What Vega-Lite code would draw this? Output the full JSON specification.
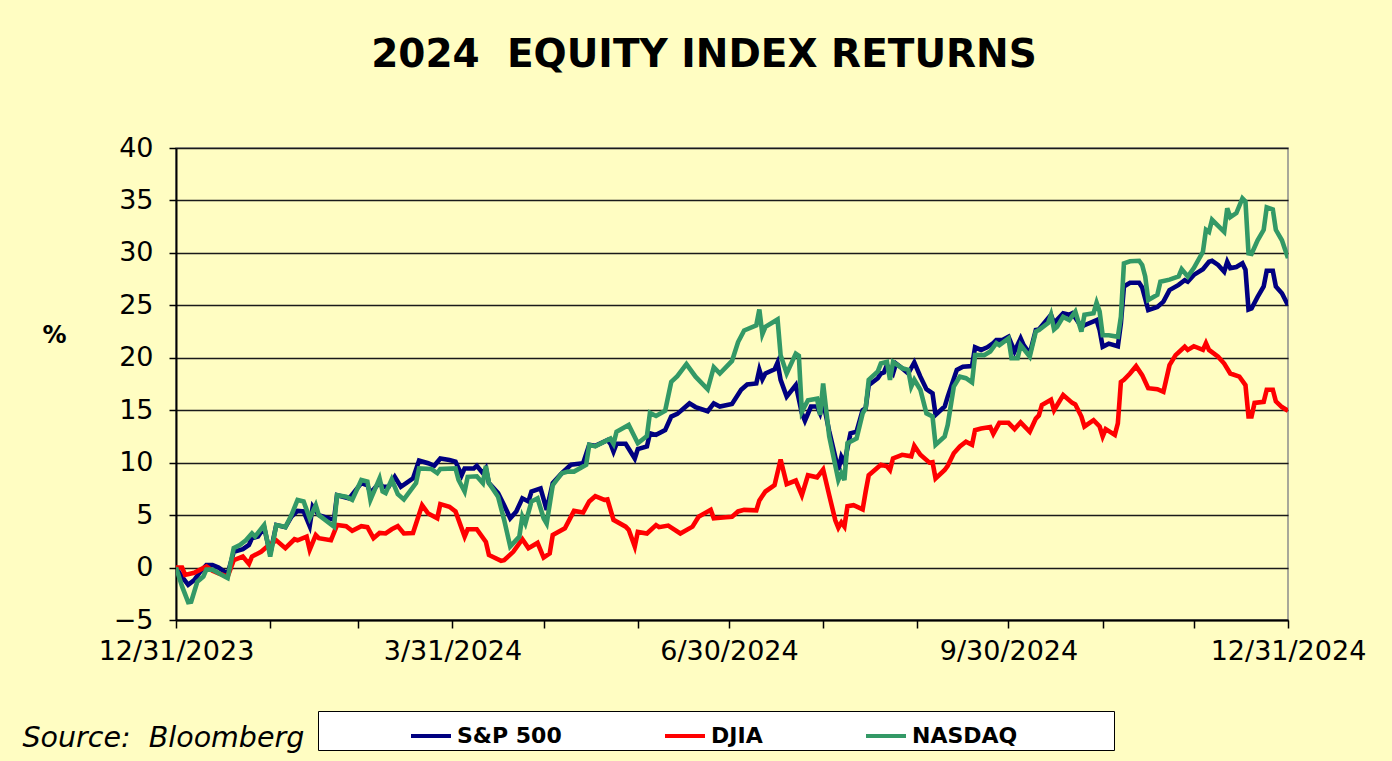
{
"$schema": "https://vega.github.io/schema/vega-lite/v6.json",
"autosize": {"type": "none"},
"width": 1112,
"height": 472,
"padding": {"left": 176, "top": 148, "right": 104, "bottom": 141},
"background": "#FFFDC2",
"title": {"text": "2024\u00a0 EQUITY INDEX RETURNS", "font": "DejaVu Sans", "fontSize": 39, "fontWeight": "bold", "color": "black", "anchor": "middle", "dx": -28, "offset": 59},
"config": {
  "font": "DejaVu Sans",
  "view": {"stroke": "#8c8c8c", "strokeWidth": 1.5}
},
"data": {"values": [
{"date":"2023-12-31","index":"S&P 500","ret":0},
{"date":"2024-01-02","index":"S&P 500","ret":-0.9},
{"date":"2024-01-04","index":"S&P 500","ret":-1.65},
{"date":"2024-01-06","index":"S&P 500","ret":-1.2},
{"date":"2024-01-08","index":"S&P 500","ret":-0.4},
{"date":"2024-01-10","index":"S&P 500","ret":0.25},
{"date":"2024-01-12","index":"S&P 500","ret":0.25},
{"date":"2024-01-14","index":"S&P 500","ret":0.0},
{"date":"2024-01-17","index":"S&P 500","ret":-0.6},
{"date":"2024-01-19","index":"S&P 500","ret":1.5},
{"date":"2024-01-22","index":"S&P 500","ret":1.75},
{"date":"2024-01-24","index":"S&P 500","ret":2.15},
{"date":"2024-01-25","index":"S&P 500","ret":2.8},
{"date":"2024-01-27","index":"S&P 500","ret":2.95},
{"date":"2024-01-29","index":"S&P 500","ret":3.85},
{"date":"2024-01-31","index":"S&P 500","ret":1.3},
{"date":"2024-02-02","index":"S&P 500","ret":4.05},
{"date":"2024-02-05","index":"S&P 500","ret":3.85},
{"date":"2024-02-07","index":"S&P 500","ret":4.85},
{"date":"2024-02-09","index":"S&P 500","ret":5.4},
{"date":"2024-02-11","index":"S&P 500","ret":5.35},
{"date":"2024-02-13","index":"S&P 500","ret":3.95},
{"date":"2024-02-14","index":"S&P 500","ret":5.8},
{"date":"2024-02-16","index":"S&P 500","ret":5.0},
{"date":"2024-02-21","index":"S&P 500","ret":4.55},
{"date":"2024-02-22","index":"S&P 500","ret":6.9},
{"date":"2024-02-26","index":"S&P 500","ret":6.6},
{"date":"2024-03-01","index":"S&P 500","ret":8.05},
{"date":"2024-03-03","index":"S&P 500","ret":7.85},
{"date":"2024-03-04","index":"S&P 500","ret":7.1},
{"date":"2024-03-07","index":"S&P 500","ret":8.1},
{"date":"2024-03-08","index":"S&P 500","ret":7.7},
{"date":"2024-03-10","index":"S&P 500","ret":7.7},
{"date":"2024-03-12","index":"S&P 500","ret":8.65},
{"date":"2024-03-14","index":"S&P 500","ret":7.7},
{"date":"2024-03-16","index":"S&P 500","ret":8.1},
{"date":"2024-03-18","index":"S&P 500","ret":8.5},
{"date":"2024-03-20","index":"S&P 500","ret":10.2},
{"date":"2024-03-23","index":"S&P 500","ret":9.95},
{"date":"2024-03-25","index":"S&P 500","ret":9.7},
{"date":"2024-03-27","index":"S&P 500","ret":10.4},
{"date":"2024-03-30","index":"S&P 500","ret":10.25},
{"date":"2024-04-01","index":"S&P 500","ret":10.1},
{"date":"2024-04-03","index":"S&P 500","ret":8.8},
{"date":"2024-04-04","index":"S&P 500","ret":9.45},
{"date":"2024-04-07","index":"S&P 500","ret":9.45},
{"date":"2024-04-08","index":"S&P 500","ret":9.7},
{"date":"2024-04-10","index":"S&P 500","ret":9.0},
{"date":"2024-04-11","index":"S&P 500","ret":9.45},
{"date":"2024-04-12","index":"S&P 500","ret":8.05},
{"date":"2024-04-15","index":"S&P 500","ret":7.1},
{"date":"2024-04-17","index":"S&P 500","ret":5.95},
{"date":"2024-04-19","index":"S&P 500","ret":4.7},
{"date":"2024-04-21","index":"S&P 500","ret":5.35},
{"date":"2024-04-23","index":"S&P 500","ret":6.6},
{"date":"2024-04-25","index":"S&P 500","ret":6.3},
{"date":"2024-04-26","index":"S&P 500","ret":7.25},
{"date":"2024-04-29","index":"S&P 500","ret":7.55},
{"date":"2024-05-01","index":"S&P 500","ret":5.5},
{"date":"2024-05-03","index":"S&P 500","ret":8.05},
{"date":"2024-05-06","index":"S&P 500","ret":9.0},
{"date":"2024-05-09","index":"S&P 500","ret":9.8},
{"date":"2024-05-13","index":"S&P 500","ret":9.95},
{"date":"2024-05-15","index":"S&P 500","ret":11.7},
{"date":"2024-05-17","index":"S&P 500","ret":11.6},
{"date":"2024-05-21","index":"S&P 500","ret":12.15},
{"date":"2024-05-22","index":"S&P 500","ret":11.8},
{"date":"2024-05-23","index":"S&P 500","ret":11.05},
{"date":"2024-05-24","index":"S&P 500","ret":11.8},
{"date":"2024-05-27","index":"S&P 500","ret":11.8},
{"date":"2024-05-30","index":"S&P 500","ret":10.4},
{"date":"2024-05-31","index":"S&P 500","ret":11.3},
{"date":"2024-06-03","index":"S&P 500","ret":11.55},
{"date":"2024-06-04","index":"S&P 500","ret":12.8},
{"date":"2024-06-06","index":"S&P 500","ret":12.65},
{"date":"2024-06-09","index":"S&P 500","ret":13.1},
{"date":"2024-06-11","index":"S&P 500","ret":14.4},
{"date":"2024-06-13","index":"S&P 500","ret":14.65},
{"date":"2024-06-17","index":"S&P 500","ret":15.65},
{"date":"2024-06-19","index":"S&P 500","ret":15.3},
{"date":"2024-06-23","index":"S&P 500","ret":14.9},
{"date":"2024-06-25","index":"S&P 500","ret":15.65},
{"date":"2024-06-27","index":"S&P 500","ret":15.35},
{"date":"2024-07-01","index":"S&P 500","ret":15.6},
{"date":"2024-07-04","index":"S&P 500","ret":16.95},
{"date":"2024-07-06","index":"S&P 500","ret":17.45},
{"date":"2024-07-09","index":"S&P 500","ret":17.55},
{"date":"2024-07-10","index":"S&P 500","ret":18.85},
{"date":"2024-07-11","index":"S&P 500","ret":17.95},
{"date":"2024-07-12","index":"S&P 500","ret":18.5},
{"date":"2024-07-15","index":"S&P 500","ret":18.9},
{"date":"2024-07-16","index":"S&P 500","ret":19.55},
{"date":"2024-07-17","index":"S&P 500","ret":17.9},
{"date":"2024-07-19","index":"S&P 500","ret":16.3},
{"date":"2024-07-22","index":"S&P 500","ret":17.4},
{"date":"2024-07-24","index":"S&P 500","ret":14.7},
{"date":"2024-07-25","index":"S&P 500","ret":14.0},
{"date":"2024-07-27","index":"S&P 500","ret":15.35},
{"date":"2024-07-29","index":"S&P 500","ret":15.35},
{"date":"2024-07-30","index":"S&P 500","ret":14.7},
{"date":"2024-07-31","index":"S&P 500","ret":15.8},
{"date":"2024-08-02","index":"S&P 500","ret":13.0},
{"date":"2024-08-05","index":"S&P 500","ret":9.3},
{"date":"2024-08-06","index":"S&P 500","ret":10.55},
{"date":"2024-08-07","index":"S&P 500","ret":10.0},
{"date":"2024-08-09","index":"S&P 500","ret":12.8},
{"date":"2024-08-11","index":"S&P 500","ret":12.95},
{"date":"2024-08-13","index":"S&P 500","ret":15.0},
{"date":"2024-08-14","index":"S&P 500","ret":15.2},
{"date":"2024-08-15","index":"S&P 500","ret":17.4},
{"date":"2024-08-18","index":"S&P 500","ret":18.05},
{"date":"2024-08-19","index":"S&P 500","ret":18.5},
{"date":"2024-08-20","index":"S&P 500","ret":18.6},
{"date":"2024-08-21","index":"S&P 500","ret":19.3},
{"date":"2024-08-23","index":"S&P 500","ret":18.5},
{"date":"2024-08-24","index":"S&P 500","ret":19.45},
{"date":"2024-08-26","index":"S&P 500","ret":19.0},
{"date":"2024-08-28","index":"S&P 500","ret":18.5},
{"date":"2024-08-30","index":"S&P 500","ret":19.55},
{"date":"2024-09-01","index":"S&P 500","ret":18.2},
{"date":"2024-09-03","index":"S&P 500","ret":17.0},
{"date":"2024-09-05","index":"S&P 500","ret":16.6},
{"date":"2024-09-06","index":"S&P 500","ret":14.55},
{"date":"2024-09-09","index":"S&P 500","ret":15.35},
{"date":"2024-09-10","index":"S&P 500","ret":16.3},
{"date":"2024-09-13","index":"S&P 500","ret":18.85},
{"date":"2024-09-15","index":"S&P 500","ret":19.15},
{"date":"2024-09-18","index":"S&P 500","ret":19.2},
{"date":"2024-09-19","index":"S&P 500","ret":21.0},
{"date":"2024-09-21","index":"S&P 500","ret":20.75},
{"date":"2024-09-23","index":"S&P 500","ret":21.0},
{"date":"2024-09-25","index":"S&P 500","ret":21.4},
{"date":"2024-09-26","index":"S&P 500","ret":21.7},
{"date":"2024-09-28","index":"S&P 500","ret":21.7},
{"date":"2024-09-30","index":"S&P 500","ret":22.0},
{"date":"2024-10-02","index":"S&P 500","ret":20.6},
{"date":"2024-10-04","index":"S&P 500","ret":21.85},
{"date":"2024-10-05","index":"S&P 500","ret":21.2},
{"date":"2024-10-07","index":"S&P 500","ret":20.4},
{"date":"2024-10-09","index":"S&P 500","ret":22.65},
{"date":"2024-10-10","index":"S&P 500","ret":22.7},
{"date":"2024-10-14","index":"S&P 500","ret":24.1},
{"date":"2024-10-15","index":"S&P 500","ret":23.3},
{"date":"2024-10-18","index":"S&P 500","ret":24.25},
{"date":"2024-10-20","index":"S&P 500","ret":24.1},
{"date":"2024-10-21","index":"S&P 500","ret":24.25},
{"date":"2024-10-24","index":"S&P 500","ret":22.95},
{"date":"2024-10-25","index":"S&P 500","ret":23.1},
{"date":"2024-10-29","index":"S&P 500","ret":23.6},
{"date":"2024-10-30","index":"S&P 500","ret":22.65},
{"date":"2024-10-31","index":"S&P 500","ret":21.05},
{"date":"2024-11-02","index":"S&P 500","ret":21.35},
{"date":"2024-11-05","index":"S&P 500","ret":21.1},
{"date":"2024-11-06","index":"S&P 500","ret":23.3},
{"date":"2024-11-07","index":"S&P 500","ret":26.8},
{"date":"2024-11-09","index":"S&P 500","ret":27.15},
{"date":"2024-11-12","index":"S&P 500","ret":27.15},
{"date":"2024-11-13","index":"S&P 500","ret":26.7},
{"date":"2024-11-14","index":"S&P 500","ret":25.65},
{"date":"2024-11-15","index":"S&P 500","ret":24.55},
{"date":"2024-11-18","index":"S&P 500","ret":24.85},
{"date":"2024-11-20","index":"S&P 500","ret":25.35},
{"date":"2024-11-22","index":"S&P 500","ret":26.45},
{"date":"2024-11-25","index":"S&P 500","ret":26.95},
{"date":"2024-11-27","index":"S&P 500","ret":27.4},
{"date":"2024-11-28","index":"S&P 500","ret":27.25},
{"date":"2024-11-30","index":"S&P 500","ret":27.9},
{"date":"2024-12-03","index":"S&P 500","ret":28.45},
{"date":"2024-12-05","index":"S&P 500","ret":29.15},
{"date":"2024-12-06","index":"S&P 500","ret":29.25},
{"date":"2024-12-08","index":"S&P 500","ret":28.85},
{"date":"2024-12-10","index":"S&P 500","ret":28.2},
{"date":"2024-12-11","index":"S&P 500","ret":29.15},
{"date":"2024-12-12","index":"S&P 500","ret":28.55},
{"date":"2024-12-14","index":"S&P 500","ret":28.65},
{"date":"2024-12-16","index":"S&P 500","ret":29.0},
{"date":"2024-12-17","index":"S&P 500","ret":28.4},
{"date":"2024-12-18","index":"S&P 500","ret":24.6},
{"date":"2024-12-19","index":"S&P 500","ret":24.7},
{"date":"2024-12-21","index":"S&P 500","ret":25.8},
{"date":"2024-12-23","index":"S&P 500","ret":26.8},
{"date":"2024-12-24","index":"S&P 500","ret":28.3},
{"date":"2024-12-26","index":"S&P 500","ret":28.3},
{"date":"2024-12-27","index":"S&P 500","ret":26.8},
{"date":"2024-12-29","index":"S&P 500","ret":26.15},
{"date":"2024-12-31","index":"S&P 500","ret":25.0},
{"date":"2023-12-31","index":"DJIA","ret":0},
{"date":"2024-01-02","index":"DJIA","ret":0.0},
{"date":"2024-01-03","index":"DJIA","ret":-0.7},
{"date":"2024-01-06","index":"DJIA","ret":-0.5},
{"date":"2024-01-08","index":"DJIA","ret":-0.2},
{"date":"2024-01-10","index":"DJIA","ret":0.1},
{"date":"2024-01-12","index":"DJIA","ret":-0.3},
{"date":"2024-01-14","index":"DJIA","ret":-0.55},
{"date":"2024-01-17","index":"DJIA","ret":-0.85},
{"date":"2024-01-19","index":"DJIA","ret":0.7},
{"date":"2024-01-22","index":"DJIA","ret":1.05},
{"date":"2024-01-24","index":"DJIA","ret":0.35},
{"date":"2024-01-25","index":"DJIA","ret":1.05},
{"date":"2024-01-28","index":"DJIA","ret":1.5},
{"date":"2024-01-30","index":"DJIA","ret":2.0},
{"date":"2024-02-02","index":"DJIA","ret":2.6},
{"date":"2024-02-05","index":"DJIA","ret":1.85},
{"date":"2024-02-08","index":"DJIA","ret":2.7},
{"date":"2024-02-09","index":"DJIA","ret":2.6},
{"date":"2024-02-12","index":"DJIA","ret":2.95},
{"date":"2024-02-13","index":"DJIA","ret":1.7},
{"date":"2024-02-15","index":"DJIA","ret":3.1},
{"date":"2024-02-16","index":"DJIA","ret":2.8},
{"date":"2024-02-20","index":"DJIA","ret":2.6},
{"date":"2024-02-22","index":"DJIA","ret":4.05},
{"date":"2024-02-25","index":"DJIA","ret":3.95},
{"date":"2024-02-27","index":"DJIA","ret":3.5},
{"date":"2024-03-01","index":"DJIA","ret":3.95},
{"date":"2024-03-03","index":"DJIA","ret":3.85},
{"date":"2024-03-05","index":"DJIA","ret":2.8},
{"date":"2024-03-07","index":"DJIA","ret":3.3},
{"date":"2024-03-09","index":"DJIA","ret":3.25},
{"date":"2024-03-11","index":"DJIA","ret":3.65},
{"date":"2024-03-13","index":"DJIA","ret":3.95},
{"date":"2024-03-15","index":"DJIA","ret":3.25},
{"date":"2024-03-18","index":"DJIA","ret":3.3},
{"date":"2024-03-21","index":"DJIA","ret":5.95},
{"date":"2024-03-23","index":"DJIA","ret":5.15},
{"date":"2024-03-26","index":"DJIA","ret":4.7},
{"date":"2024-03-27","index":"DJIA","ret":6.05},
{"date":"2024-03-30","index":"DJIA","ret":5.8},
{"date":"2024-04-01","index":"DJIA","ret":5.35},
{"date":"2024-04-04","index":"DJIA","ret":2.95},
{"date":"2024-04-05","index":"DJIA","ret":3.65},
{"date":"2024-04-08","index":"DJIA","ret":3.65},
{"date":"2024-04-11","index":"DJIA","ret":2.45},
{"date":"2024-04-12","index":"DJIA","ret":1.2},
{"date":"2024-04-16","index":"DJIA","ret":0.65},
{"date":"2024-04-17","index":"DJIA","ret":0.7},
{"date":"2024-04-20","index":"DJIA","ret":1.5},
{"date":"2024-04-23","index":"DJIA","ret":2.7},
{"date":"2024-04-25","index":"DJIA","ret":1.85},
{"date":"2024-04-28","index":"DJIA","ret":2.35},
{"date":"2024-04-30","index":"DJIA","ret":0.95},
{"date":"2024-05-02","index":"DJIA","ret":1.35},
{"date":"2024-05-03","index":"DJIA","ret":3.1},
{"date":"2024-05-07","index":"DJIA","ret":3.75},
{"date":"2024-05-10","index":"DJIA","ret":5.4},
{"date":"2024-05-13","index":"DJIA","ret":5.25},
{"date":"2024-05-15","index":"DJIA","ret":6.3},
{"date":"2024-05-17","index":"DJIA","ret":6.8},
{"date":"2024-05-20","index":"DJIA","ret":6.45},
{"date":"2024-05-21","index":"DJIA","ret":6.5},
{"date":"2024-05-23","index":"DJIA","ret":4.55},
{"date":"2024-05-27","index":"DJIA","ret":3.9},
{"date":"2024-05-28","index":"DJIA","ret":3.6},
{"date":"2024-05-30","index":"DJIA","ret":2.0},
{"date":"2024-05-31","index":"DJIA","ret":3.4},
{"date":"2024-06-03","index":"DJIA","ret":3.25},
{"date":"2024-06-06","index":"DJIA","ret":4.05},
{"date":"2024-06-07","index":"DJIA","ret":3.85},
{"date":"2024-06-10","index":"DJIA","ret":4.0},
{"date":"2024-06-14","index":"DJIA","ret":3.25},
{"date":"2024-06-18","index":"DJIA","ret":3.9},
{"date":"2024-06-20","index":"DJIA","ret":4.85},
{"date":"2024-06-24","index":"DJIA","ret":5.5},
{"date":"2024-06-25","index":"DJIA","ret":4.7},
{"date":"2024-06-29","index":"DJIA","ret":4.8},
{"date":"2024-07-01","index":"DJIA","ret":4.85},
{"date":"2024-07-03","index":"DJIA","ret":5.35},
{"date":"2024-07-05","index":"DJIA","ret":5.5},
{"date":"2024-07-09","index":"DJIA","ret":5.45},
{"date":"2024-07-10","index":"DJIA","ret":6.4},
{"date":"2024-07-12","index":"DJIA","ret":7.25},
{"date":"2024-07-15","index":"DJIA","ret":7.85},
{"date":"2024-07-17","index":"DJIA","ret":10.3},
{"date":"2024-07-19","index":"DJIA","ret":7.95},
{"date":"2024-07-22","index":"DJIA","ret":8.3},
{"date":"2024-07-24","index":"DJIA","ret":6.9},
{"date":"2024-07-26","index":"DJIA","ret":8.8},
{"date":"2024-07-29","index":"DJIA","ret":8.6},
{"date":"2024-07-31","index":"DJIA","ret":9.35},
{"date":"2024-08-02","index":"DJIA","ret":6.9},
{"date":"2024-08-04","index":"DJIA","ret":4.5},
{"date":"2024-08-05","index":"DJIA","ret":3.8},
{"date":"2024-08-06","index":"DJIA","ret":4.3},
{"date":"2024-08-07","index":"DJIA","ret":3.9},
{"date":"2024-08-08","index":"DJIA","ret":5.85},
{"date":"2024-08-10","index":"DJIA","ret":5.95},
{"date":"2024-08-13","index":"DJIA","ret":5.55},
{"date":"2024-08-14","index":"DJIA","ret":7.25},
{"date":"2024-08-15","index":"DJIA","ret":8.8},
{"date":"2024-08-17","index":"DJIA","ret":9.3},
{"date":"2024-08-19","index":"DJIA","ret":9.8},
{"date":"2024-08-21","index":"DJIA","ret":9.65},
{"date":"2024-08-22","index":"DJIA","ret":9.3},
{"date":"2024-08-23","index":"DJIA","ret":10.4},
{"date":"2024-08-26","index":"DJIA","ret":10.75},
{"date":"2024-08-29","index":"DJIA","ret":10.6},
{"date":"2024-08-30","index":"DJIA","ret":11.6},
{"date":"2024-09-01","index":"DJIA","ret":10.75},
{"date":"2024-09-04","index":"DJIA","ret":10.0},
{"date":"2024-09-05","index":"DJIA","ret":10.05},
{"date":"2024-09-06","index":"DJIA","ret":8.5},
{"date":"2024-09-09","index":"DJIA","ret":9.3},
{"date":"2024-09-10","index":"DJIA","ret":9.7},
{"date":"2024-09-12","index":"DJIA","ret":10.9},
{"date":"2024-09-14","index":"DJIA","ret":11.55},
{"date":"2024-09-16","index":"DJIA","ret":12.0},
{"date":"2024-09-18","index":"DJIA","ret":11.7},
{"date":"2024-09-19","index":"DJIA","ret":13.1},
{"date":"2024-09-21","index":"DJIA","ret":13.25},
{"date":"2024-09-24","index":"DJIA","ret":13.4},
{"date":"2024-09-25","index":"DJIA","ret":12.75},
{"date":"2024-09-27","index":"DJIA","ret":13.8},
{"date":"2024-09-30","index":"DJIA","ret":13.8},
{"date":"2024-10-02","index":"DJIA","ret":13.2},
{"date":"2024-10-04","index":"DJIA","ret":13.85},
{"date":"2024-10-07","index":"DJIA","ret":12.95},
{"date":"2024-10-09","index":"DJIA","ret":14.2},
{"date":"2024-10-10","index":"DJIA","ret":14.5},
{"date":"2024-10-11","index":"DJIA","ret":15.5},
{"date":"2024-10-14","index":"DJIA","ret":16.0},
{"date":"2024-10-15","index":"DJIA","ret":15.0},
{"date":"2024-10-18","index":"DJIA","ret":16.45},
{"date":"2024-10-21","index":"DJIA","ret":15.7},
{"date":"2024-10-22","index":"DJIA","ret":15.55},
{"date":"2024-10-24","index":"DJIA","ret":14.4},
{"date":"2024-10-25","index":"DJIA","ret":13.45},
{"date":"2024-10-28","index":"DJIA","ret":14.05},
{"date":"2024-10-30","index":"DJIA","ret":13.45},
{"date":"2024-10-31","index":"DJIA","ret":12.5},
{"date":"2024-11-01","index":"DJIA","ret":13.2},
{"date":"2024-11-04","index":"DJIA","ret":12.65},
{"date":"2024-11-05","index":"DJIA","ret":13.75},
{"date":"2024-11-06","index":"DJIA","ret":17.7},
{"date":"2024-11-07","index":"DJIA","ret":17.9},
{"date":"2024-11-09","index":"DJIA","ret":18.5},
{"date":"2024-11-11","index":"DJIA","ret":19.2},
{"date":"2024-11-13","index":"DJIA","ret":18.35},
{"date":"2024-11-15","index":"DJIA","ret":17.1},
{"date":"2024-11-18","index":"DJIA","ret":17.0},
{"date":"2024-11-20","index":"DJIA","ret":16.75},
{"date":"2024-11-22","index":"DJIA","ret":19.3},
{"date":"2024-11-24","index":"DJIA","ret":20.25},
{"date":"2024-11-27","index":"DJIA","ret":21.05},
{"date":"2024-11-28","index":"DJIA","ret":20.75},
{"date":"2024-11-30","index":"DJIA","ret":21.1},
{"date":"2024-12-03","index":"DJIA","ret":20.75},
{"date":"2024-12-04","index":"DJIA","ret":21.4},
{"date":"2024-12-05","index":"DJIA","ret":20.75},
{"date":"2024-12-08","index":"DJIA","ret":20.1},
{"date":"2024-12-10","index":"DJIA","ret":19.45},
{"date":"2024-12-12","index":"DJIA","ret":18.5},
{"date":"2024-12-15","index":"DJIA","ret":18.2},
{"date":"2024-12-17","index":"DJIA","ret":17.4},
{"date":"2024-12-18","index":"DJIA","ret":14.4},
{"date":"2024-12-19","index":"DJIA","ret":14.4},
{"date":"2024-12-20","index":"DJIA","ret":15.7},
{"date":"2024-12-23","index":"DJIA","ret":15.8},
{"date":"2024-12-24","index":"DJIA","ret":16.95},
{"date":"2024-12-26","index":"DJIA","ret":16.95},
{"date":"2024-12-27","index":"DJIA","ret":15.85},
{"date":"2024-12-29","index":"DJIA","ret":15.3},
{"date":"2024-12-31","index":"DJIA","ret":14.95},
{"date":"2023-12-31","index":"NASDAQ","ret":0},
{"date":"2024-01-02","index":"NASDAQ","ret":-1.8},
{"date":"2024-01-04","index":"NASDAQ","ret":-3.3},
{"date":"2024-01-05","index":"NASDAQ","ret":-3.25},
{"date":"2024-01-07","index":"NASDAQ","ret":-1.35},
{"date":"2024-01-09","index":"NASDAQ","ret":-0.85},
{"date":"2024-01-10","index":"NASDAQ","ret":-0.2},
{"date":"2024-01-12","index":"NASDAQ","ret":-0.2},
{"date":"2024-01-16","index":"NASDAQ","ret":-0.85},
{"date":"2024-01-17","index":"NASDAQ","ret":-1.0},
{"date":"2024-01-19","index":"NASDAQ","ret":1.85},
{"date":"2024-01-21","index":"NASDAQ","ret":2.15},
{"date":"2024-01-23","index":"NASDAQ","ret":2.6},
{"date":"2024-01-25","index":"NASDAQ","ret":3.25},
{"date":"2024-01-26","index":"NASDAQ","ret":2.95},
{"date":"2024-01-29","index":"NASDAQ","ret":4.05},
{"date":"2024-01-31","index":"NASDAQ","ret":1.05},
{"date":"2024-02-02","index":"NASDAQ","ret":4.05},
{"date":"2024-02-04","index":"NASDAQ","ret":3.95},
{"date":"2024-02-05","index":"NASDAQ","ret":3.85},
{"date":"2024-02-07","index":"NASDAQ","ret":5.0},
{"date":"2024-02-09","index":"NASDAQ","ret":6.45},
{"date":"2024-02-11","index":"NASDAQ","ret":6.3},
{"date":"2024-02-13","index":"NASDAQ","ret":4.7},
{"date":"2024-02-15","index":"NASDAQ","ret":5.95},
{"date":"2024-02-16","index":"NASDAQ","ret":5.0},
{"date":"2024-02-21","index":"NASDAQ","ret":3.9},
{"date":"2024-02-22","index":"NASDAQ","ret":6.9},
{"date":"2024-02-25","index":"NASDAQ","ret":6.75},
{"date":"2024-02-27","index":"NASDAQ","ret":6.45},
{"date":"2024-03-01","index":"NASDAQ","ret":8.35},
{"date":"2024-03-03","index":"NASDAQ","ret":8.2},
{"date":"2024-03-04","index":"NASDAQ","ret":6.45},
{"date":"2024-03-07","index":"NASDAQ","ret":8.5},
{"date":"2024-03-08","index":"NASDAQ","ret":7.25},
{"date":"2024-03-09","index":"NASDAQ","ret":7.1},
{"date":"2024-03-11","index":"NASDAQ","ret":8.4},
{"date":"2024-03-13","index":"NASDAQ","ret":7.0},
{"date":"2024-03-15","index":"NASDAQ","ret":6.5},
{"date":"2024-03-19","index":"NASDAQ","ret":8.05},
{"date":"2024-03-20","index":"NASDAQ","ret":9.45},
{"date":"2024-03-24","index":"NASDAQ","ret":9.4},
{"date":"2024-03-26","index":"NASDAQ","ret":9.0},
{"date":"2024-03-27","index":"NASDAQ","ret":9.4},
{"date":"2024-04-01","index":"NASDAQ","ret":9.45},
{"date":"2024-04-02","index":"NASDAQ","ret":8.35},
{"date":"2024-04-04","index":"NASDAQ","ret":7.25},
{"date":"2024-04-05","index":"NASDAQ","ret":8.65},
{"date":"2024-04-08","index":"NASDAQ","ret":8.7},
{"date":"2024-04-10","index":"NASDAQ","ret":8.05},
{"date":"2024-04-11","index":"NASDAQ","ret":9.7},
{"date":"2024-04-12","index":"NASDAQ","ret":8.05},
{"date":"2024-04-15","index":"NASDAQ","ret":6.75},
{"date":"2024-04-17","index":"NASDAQ","ret":4.55},
{"date":"2024-04-19","index":"NASDAQ","ret":2.0},
{"date":"2024-04-22","index":"NASDAQ","ret":2.95},
{"date":"2024-04-23","index":"NASDAQ","ret":4.85},
{"date":"2024-04-24","index":"NASDAQ","ret":4.2},
{"date":"2024-04-26","index":"NASDAQ","ret":6.3},
{"date":"2024-04-28","index":"NASDAQ","ret":6.6},
{"date":"2024-04-30","index":"NASDAQ","ret":4.7},
{"date":"2024-05-01","index":"NASDAQ","ret":4.2},
{"date":"2024-05-03","index":"NASDAQ","ret":7.85},
{"date":"2024-05-06","index":"NASDAQ","ret":9.0},
{"date":"2024-05-08","index":"NASDAQ","ret":9.15},
{"date":"2024-05-10","index":"NASDAQ","ret":9.15},
{"date":"2024-05-14","index":"NASDAQ","ret":9.8},
{"date":"2024-05-15","index":"NASDAQ","ret":11.7},
{"date":"2024-05-17","index":"NASDAQ","ret":11.55},
{"date":"2024-05-22","index":"NASDAQ","ret":12.3},
{"date":"2024-05-23","index":"NASDAQ","ret":11.8},
{"date":"2024-05-24","index":"NASDAQ","ret":12.95},
{"date":"2024-05-28","index":"NASDAQ","ret":13.6},
{"date":"2024-05-31","index":"NASDAQ","ret":11.85},
{"date":"2024-06-03","index":"NASDAQ","ret":12.55},
{"date":"2024-06-04","index":"NASDAQ","ret":14.75},
{"date":"2024-06-06","index":"NASDAQ","ret":14.45},
{"date":"2024-06-09","index":"NASDAQ","ret":14.95},
{"date":"2024-06-11","index":"NASDAQ","ret":17.7},
{"date":"2024-06-13","index":"NASDAQ","ret":18.25},
{"date":"2024-06-16","index":"NASDAQ","ret":19.4},
{"date":"2024-06-19","index":"NASDAQ","ret":18.2},
{"date":"2024-06-23","index":"NASDAQ","ret":17.0},
{"date":"2024-06-25","index":"NASDAQ","ret":19.1},
{"date":"2024-06-27","index":"NASDAQ","ret":18.5},
{"date":"2024-07-01","index":"NASDAQ","ret":19.7},
{"date":"2024-07-03","index":"NASDAQ","ret":21.5},
{"date":"2024-07-05","index":"NASDAQ","ret":22.6},
{"date":"2024-07-09","index":"NASDAQ","ret":23.1},
{"date":"2024-07-10","index":"NASDAQ","ret":24.6},
{"date":"2024-07-11","index":"NASDAQ","ret":22.25},
{"date":"2024-07-12","index":"NASDAQ","ret":22.95},
{"date":"2024-07-16","index":"NASDAQ","ret":23.65},
{"date":"2024-07-17","index":"NASDAQ","ret":20.25},
{"date":"2024-07-19","index":"NASDAQ","ret":18.5},
{"date":"2024-07-22","index":"NASDAQ","ret":20.4},
{"date":"2024-07-23","index":"NASDAQ","ret":20.2},
{"date":"2024-07-24","index":"NASDAQ","ret":14.85},
{"date":"2024-07-26","index":"NASDAQ","ret":15.95},
{"date":"2024-07-29","index":"NASDAQ","ret":16.1},
{"date":"2024-07-30","index":"NASDAQ","ret":14.55},
{"date":"2024-07-31","index":"NASDAQ","ret":17.55},
{"date":"2024-08-02","index":"NASDAQ","ret":12.5},
{"date":"2024-08-05","index":"NASDAQ","ret":8.35},
{"date":"2024-08-06","index":"NASDAQ","ret":9.0},
{"date":"2024-08-07","index":"NASDAQ","ret":8.35},
{"date":"2024-08-08","index":"NASDAQ","ret":11.85},
{"date":"2024-08-11","index":"NASDAQ","ret":12.3},
{"date":"2024-08-13","index":"NASDAQ","ret":14.7},
{"date":"2024-08-14","index":"NASDAQ","ret":15.2},
{"date":"2024-08-15","index":"NASDAQ","ret":17.9},
{"date":"2024-08-18","index":"NASDAQ","ret":18.7},
{"date":"2024-08-19","index":"NASDAQ","ret":19.45},
{"date":"2024-08-21","index":"NASDAQ","ret":19.6},
{"date":"2024-08-22","index":"NASDAQ","ret":17.9},
{"date":"2024-08-23","index":"NASDAQ","ret":19.6},
{"date":"2024-08-26","index":"NASDAQ","ret":19.0},
{"date":"2024-08-28","index":"NASDAQ","ret":18.85},
{"date":"2024-08-29","index":"NASDAQ","ret":17.25},
{"date":"2024-08-30","index":"NASDAQ","ret":17.9},
{"date":"2024-09-01","index":"NASDAQ","ret":16.95},
{"date":"2024-09-03","index":"NASDAQ","ret":14.7},
{"date":"2024-09-05","index":"NASDAQ","ret":14.4},
{"date":"2024-09-06","index":"NASDAQ","ret":11.7},
{"date":"2024-09-09","index":"NASDAQ","ret":12.5},
{"date":"2024-09-10","index":"NASDAQ","ret":13.6},
{"date":"2024-09-12","index":"NASDAQ","ret":17.25},
{"date":"2024-09-14","index":"NASDAQ","ret":18.2},
{"date":"2024-09-16","index":"NASDAQ","ret":18.05},
{"date":"2024-09-18","index":"NASDAQ","ret":17.65},
{"date":"2024-09-19","index":"NASDAQ","ret":20.25},
{"date":"2024-09-22","index":"NASDAQ","ret":20.25},
{"date":"2024-09-24","index":"NASDAQ","ret":20.6},
{"date":"2024-09-26","index":"NASDAQ","ret":21.4},
{"date":"2024-09-27","index":"NASDAQ","ret":21.2},
{"date":"2024-09-30","index":"NASDAQ","ret":21.85},
{"date":"2024-10-01","index":"NASDAQ","ret":19.95},
{"date":"2024-10-03","index":"NASDAQ","ret":19.95},
{"date":"2024-10-04","index":"NASDAQ","ret":21.2},
{"date":"2024-10-07","index":"NASDAQ","ret":20.1},
{"date":"2024-10-09","index":"NASDAQ","ret":22.5},
{"date":"2024-10-10","index":"NASDAQ","ret":22.65},
{"date":"2024-10-13","index":"NASDAQ","ret":23.3},
{"date":"2024-10-14","index":"NASDAQ","ret":24.1},
{"date":"2024-10-15","index":"NASDAQ","ret":22.7},
{"date":"2024-10-16","index":"NASDAQ","ret":22.95},
{"date":"2024-10-18","index":"NASDAQ","ret":23.9},
{"date":"2024-10-20","index":"NASDAQ","ret":23.6},
{"date":"2024-10-22","index":"NASDAQ","ret":24.4},
{"date":"2024-10-24","index":"NASDAQ","ret":22.5},
{"date":"2024-10-25","index":"NASDAQ","ret":24.1},
{"date":"2024-10-28","index":"NASDAQ","ret":24.25},
{"date":"2024-10-29","index":"NASDAQ","ret":25.25},
{"date":"2024-10-30","index":"NASDAQ","ret":24.4},
{"date":"2024-10-31","index":"NASDAQ","ret":22.15},
{"date":"2024-11-02","index":"NASDAQ","ret":22.15},
{"date":"2024-11-05","index":"NASDAQ","ret":22.0},
{"date":"2024-11-06","index":"NASDAQ","ret":23.9},
{"date":"2024-11-07","index":"NASDAQ","ret":29.0},
{"date":"2024-11-09","index":"NASDAQ","ret":29.2},
{"date":"2024-11-12","index":"NASDAQ","ret":29.25},
{"date":"2024-11-13","index":"NASDAQ","ret":28.85},
{"date":"2024-11-14","index":"NASDAQ","ret":27.75},
{"date":"2024-11-15","index":"NASDAQ","ret":25.5},
{"date":"2024-11-18","index":"NASDAQ","ret":26.0},
{"date":"2024-11-19","index":"NASDAQ","ret":27.25},
{"date":"2024-11-22","index":"NASDAQ","ret":27.45},
{"date":"2024-11-25","index":"NASDAQ","ret":27.75},
{"date":"2024-11-26","index":"NASDAQ","ret":28.45},
{"date":"2024-11-28","index":"NASDAQ","ret":27.75},
{"date":"2024-11-30","index":"NASDAQ","ret":28.55},
{"date":"2024-12-03","index":"NASDAQ","ret":30.1},
{"date":"2024-12-04","index":"NASDAQ","ret":32.2},
{"date":"2024-12-05","index":"NASDAQ","ret":32.0},
{"date":"2024-12-06","index":"NASDAQ","ret":33.15},
{"date":"2024-12-10","index":"NASDAQ","ret":32.0},
{"date":"2024-12-11","index":"NASDAQ","ret":34.25},
{"date":"2024-12-12","index":"NASDAQ","ret":33.4},
{"date":"2024-12-14","index":"NASDAQ","ret":33.8},
{"date":"2024-12-16","index":"NASDAQ","ret":35.2},
{"date":"2024-12-17","index":"NASDAQ","ret":34.9},
{"date":"2024-12-18","index":"NASDAQ","ret":29.95},
{"date":"2024-12-19","index":"NASDAQ","ret":29.9},
{"date":"2024-12-21","index":"NASDAQ","ret":31.2},
{"date":"2024-12-23","index":"NASDAQ","ret":32.2},
{"date":"2024-12-24","index":"NASDAQ","ret":34.35},
{"date":"2024-12-26","index":"NASDAQ","ret":34.15},
{"date":"2024-12-27","index":"NASDAQ","ret":32.2},
{"date":"2024-12-29","index":"NASDAQ","ret":31.2},
{"date":"2024-12-31","index":"NASDAQ","ret":29.5}
]},
"mark": {"type": "line", "strokeWidth": 4.6, "clip": true},
"encoding": {
  "x": {
    "field": "date", "type": "temporal",
    "scale": {"type": "utc", "domain": [{"year": 2023, "month": 12, "date": 31, "utc": true}, {"year": 2024, "month": 12, "date": 31, "utc": true}], "nice": false},
    "axis": {
      "values": [
        {"year": 2023, "month": 12, "date": 31, "utc": true},
        {"year": 2024, "month": 1, "date": 31, "utc": true},
        {"year": 2024, "month": 2, "date": 29, "utc": true},
        {"year": 2024, "month": 3, "date": 31, "utc": true},
        {"year": 2024, "month": 4, "date": 30, "utc": true},
        {"year": 2024, "month": 5, "date": 31, "utc": true},
        {"year": 2024, "month": 6, "date": 30, "utc": true},
        {"year": 2024, "month": 7, "date": 31, "utc": true},
        {"year": 2024, "month": 8, "date": 31, "utc": true},
        {"year": 2024, "month": 9, "date": 30, "utc": true},
        {"year": 2024, "month": 10, "date": 31, "utc": true},
        {"year": 2024, "month": 11, "date": 30, "utc": true},
        {"year": 2024, "month": 12, "date": 31, "utc": true}
      ],
      "labelExpr": "utcmonth(datum.value) % 3 == 2 ? (utcmonth(datum.value) + 1) + '/' + utcdate(datum.value) + '/' + utcyear(datum.value) : ''",
      "labelFont": "DejaVu Sans", "labelFontSize": 27, "labelColor": "black",
      "labelOverlap": false, "labelFlush": false, "labelPadding": 10,
      "grid": false,
      "domainColor": "black", "domainWidth": 2,
      "tickColor": "black", "tickWidth": 1.5, "tickSize": 8,
      "title": "Source:\u00a0 Bloomberg",
      "titleFont": "DejaVu Sans", "titleFontSize": 28.5, "titleFontStyle": "italic", "titleFontWeight": "normal", "titleColor": "black",
      "titleX": -154, "titleY": 126, "titleAlign": "left", "titleAnchor": "start", "titleBaseline": "alphabetic"
    }
  },
  "y": {
    "field": "ret", "type": "quantitative",
    "scale": {"domain": [-5, 40], "nice": false, "zero": false},
    "axis": {
      "values": [-5, 0, 5, 10, 15, 20, 25, 30, 35, 40],
      "labelFont": "DejaVu Sans", "labelFontSize": 27, "labelColor": "black", "labelPadding": 16,
      "grid": true, "gridColor": "#1a1a1a", "gridWidth": 1.5,
      "domainColor": "black", "domainWidth": 2,
      "tickColor": "black", "tickWidth": 1.5, "tickSize": 7,
      "title": "%",
      "titleFont": "DejaVu Sans", "titleFontSize": 24, "titleFontWeight": "bold", "titleColor": "black",
      "titleAngle": 0, "titleX": -122, "titleY": 187, "titleAlign": "center", "titleBaseline": "middle"
    }
  },
  "color": {
    "field": "index", "type": "nominal",
    "scale": {"domain": ["S&P 500", "DJIA", "NASDAQ"], "range": ["#000080", "#FF0000", "#339966"]},
    "legend": {
      "orient": "none", "legendX": 142, "legendY": 563,
      "direction": "horizontal", "columns": 3, "columnPadding": 95,
      "title": "\u00a0", "titleOrient": "left", "titleFontSize": 10, "titlePadding": 88,
      "padding": 3, "fillColor": "white", "strokeColor": "black",
      "symbolType": "stroke", "symbolSize": 1600, "symbolStrokeWidth": 4,
      "labelFont": "DejaVu Sans", "labelFontWeight": "bold", "labelFontSize": 22, "labelColor": "black",
      "labelOffset": 4, "labelLimit": 500,
      "labelExpr": "datum.label == 'NASDAQ' ? 'NASDAQ\u2800\u2800\u2800\u00a0\u2800\u2800' : datum.label"
    }
  }
}
}
